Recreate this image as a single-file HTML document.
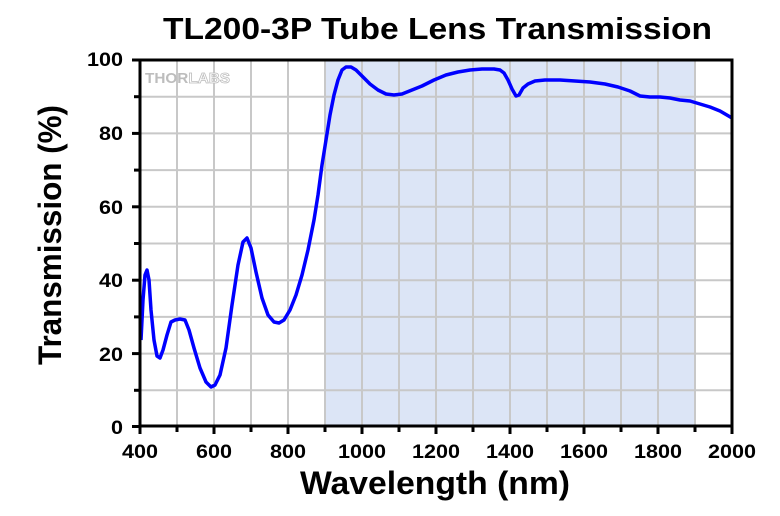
<!DOCTYPE html>
<html><head><style>
body{margin:0;background:#fff;}
svg text{font-family:"Liberation Sans",Arial,sans-serif;font-weight:bold;}
</style></head><body>
<svg width="780" height="511" viewBox="0 0 780 511" xmlns="http://www.w3.org/2000/svg">
<rect width="780" height="511" fill="#fff"/>
<text x="163" y="39" font-size="31" textLength="549" lengthAdjust="spacingAndGlyphs" fill="#000">TL200-3P Tube Lens Transmission</text>
<rect x="325" y="60" width="370" height="366" fill="#dce5f6"/>
<g stroke="#c8c8c8" stroke-width="2">
<line x1="177" y1="60" x2="177" y2="426"/><line x1="214" y1="60" x2="214" y2="426"/>
<line x1="251" y1="60" x2="251" y2="426"/><line x1="288" y1="60" x2="288" y2="426"/>
<line x1="325" y1="60" x2="325" y2="426"/><line x1="362" y1="60" x2="362" y2="426"/>
<line x1="399" y1="60" x2="399" y2="426"/><line x1="436" y1="60" x2="436" y2="426"/>
<line x1="473" y1="60" x2="473" y2="426"/><line x1="510" y1="60" x2="510" y2="426"/>
<line x1="547" y1="60" x2="547" y2="426"/><line x1="584" y1="60" x2="584" y2="426"/>
<line x1="621" y1="60" x2="621" y2="426"/><line x1="658" y1="60" x2="658" y2="426"/>
<line x1="695" y1="60" x2="695" y2="426"/>
<line x1="140" y1="96.7" x2="732" y2="96.7"/><line x1="140" y1="133.4" x2="732" y2="133.4"/>
<line x1="140" y1="170.1" x2="732" y2="170.1"/><line x1="140" y1="206.8" x2="732" y2="206.8"/>
<line x1="140" y1="243.5" x2="732" y2="243.5"/><line x1="140" y1="280.2" x2="732" y2="280.2"/>
<line x1="140" y1="316.9" x2="732" y2="316.9"/><line x1="140" y1="353.6" x2="732" y2="353.6"/>
<line x1="140" y1="390.3" x2="732" y2="390.3"/>
</g>
<text x="145" y="83" font-size="15" textLength="85" lengthAdjust="spacingAndGlyphs" fill="#bdbdbd" font-weight="bold">THOR<tspan fill="#fff" stroke="#bdbdbd" stroke-width="0.8">LABS</tspan></text>
<polyline fill="none" stroke="#0000ff" stroke-width="3.5" stroke-linejoin="round" points="141,340 143,300 145,275 147,270 149,280 151,310 154,340 157,356 160,358 163,350 167,335 171,322 175,320 180,319 185,320 189,330 194,348 200,368 206,382 211,387 215,385 220,375 226,348 232,305 238,265 243,242 247,238 251,248 256,272 262,298 268,315 274,322 279,323 284,320 290,310 296,295 302,275 308,250 314,220 318,195 322,165 326,140 330,115 334,95 338,80 342,70 346,67 351,67 356,70 362,76 370,84 378,90 386,94 394,95 402,94 412,90 422,86 434,80 446,75 458,72 470,70 482,69 494,69 500,70 504,73 508,80 512,89 516,96 519,95 523,88 528,84 535,81 545,80 560,80 575,81 590,82 605,84 618,87 630,91 640,96 650,97 660,97 670,98 680,100 690,101 700,104 710,107 720,111 732,118"/>
<rect x="140" y="60" width="592" height="366" fill="none" stroke="#000" stroke-width="3"/>
<g stroke="#000" stroke-width="3">
<line x1="132" y1="60" x2="140" y2="60"/><line x1="134" y1="96.7" x2="140" y2="96.7"/>
<line x1="132" y1="133.4" x2="140" y2="133.4"/><line x1="134" y1="170.1" x2="140" y2="170.1"/>
<line x1="132" y1="206.8" x2="140" y2="206.8"/><line x1="134" y1="243.5" x2="140" y2="243.5"/>
<line x1="132" y1="280.2" x2="140" y2="280.2"/><line x1="134" y1="316.9" x2="140" y2="316.9"/>
<line x1="132" y1="353.6" x2="140" y2="353.6"/><line x1="134" y1="390.3" x2="140" y2="390.3"/>
<line x1="132" y1="426.5" x2="140" y2="426.5"/>
<line x1="140" y1="426" x2="140" y2="434"/><line x1="177" y1="426" x2="177" y2="432"/>
<line x1="214" y1="426" x2="214" y2="434"/><line x1="251" y1="426" x2="251" y2="432"/>
<line x1="288" y1="426" x2="288" y2="434"/><line x1="325" y1="426" x2="325" y2="432"/>
<line x1="362" y1="426" x2="362" y2="434"/><line x1="399" y1="426" x2="399" y2="432"/>
<line x1="436" y1="426" x2="436" y2="434"/><line x1="473" y1="426" x2="473" y2="432"/>
<line x1="510" y1="426" x2="510" y2="434"/><line x1="547" y1="426" x2="547" y2="432"/>
<line x1="584" y1="426" x2="584" y2="434"/><line x1="621" y1="426" x2="621" y2="432"/>
<line x1="658" y1="426" x2="658" y2="434"/><line x1="695" y1="426" x2="695" y2="432"/>
<line x1="732" y1="426" x2="732" y2="434"/>
</g>
<g font-size="19" fill="#000" lengthAdjust="spacingAndGlyphs">
<text x="87" y="66" textLength="36" lengthAdjust="spacingAndGlyphs">100</text>
<text x="99" y="140" textLength="24" lengthAdjust="spacingAndGlyphs">80</text>
<text x="99" y="214" textLength="24" lengthAdjust="spacingAndGlyphs">60</text>
<text x="99" y="287" textLength="24" lengthAdjust="spacingAndGlyphs">40</text>
<text x="99" y="361" textLength="24" lengthAdjust="spacingAndGlyphs">20</text>
<text x="111" y="434" textLength="12" lengthAdjust="spacingAndGlyphs">0</text>
</g>
<g font-size="19" fill="#000">
<text x="122" y="458" textLength="36" lengthAdjust="spacingAndGlyphs">400</text>
<text x="196" y="458" textLength="36" lengthAdjust="spacingAndGlyphs">600</text>
<text x="270" y="458" textLength="36" lengthAdjust="spacingAndGlyphs">800</text>
<text x="338" y="458" textLength="48" lengthAdjust="spacingAndGlyphs">1000</text>
<text x="412" y="458" textLength="48" lengthAdjust="spacingAndGlyphs">1200</text>
<text x="486" y="458" textLength="48" lengthAdjust="spacingAndGlyphs">1400</text>
<text x="560" y="458" textLength="48" lengthAdjust="spacingAndGlyphs">1600</text>
<text x="634" y="458" textLength="48" lengthAdjust="spacingAndGlyphs">1800</text>
<text x="708" y="458" textLength="48" lengthAdjust="spacingAndGlyphs">2000</text>
</g>
<text x="300" y="494" font-size="32" textLength="270" lengthAdjust="spacingAndGlyphs" fill="#000">Wavelength (nm)</text>
<text transform="translate(61,365) rotate(-90)" font-size="32" textLength="260" lengthAdjust="spacingAndGlyphs" fill="#000">Transmission (%)</text>
</svg>
</body></html>
